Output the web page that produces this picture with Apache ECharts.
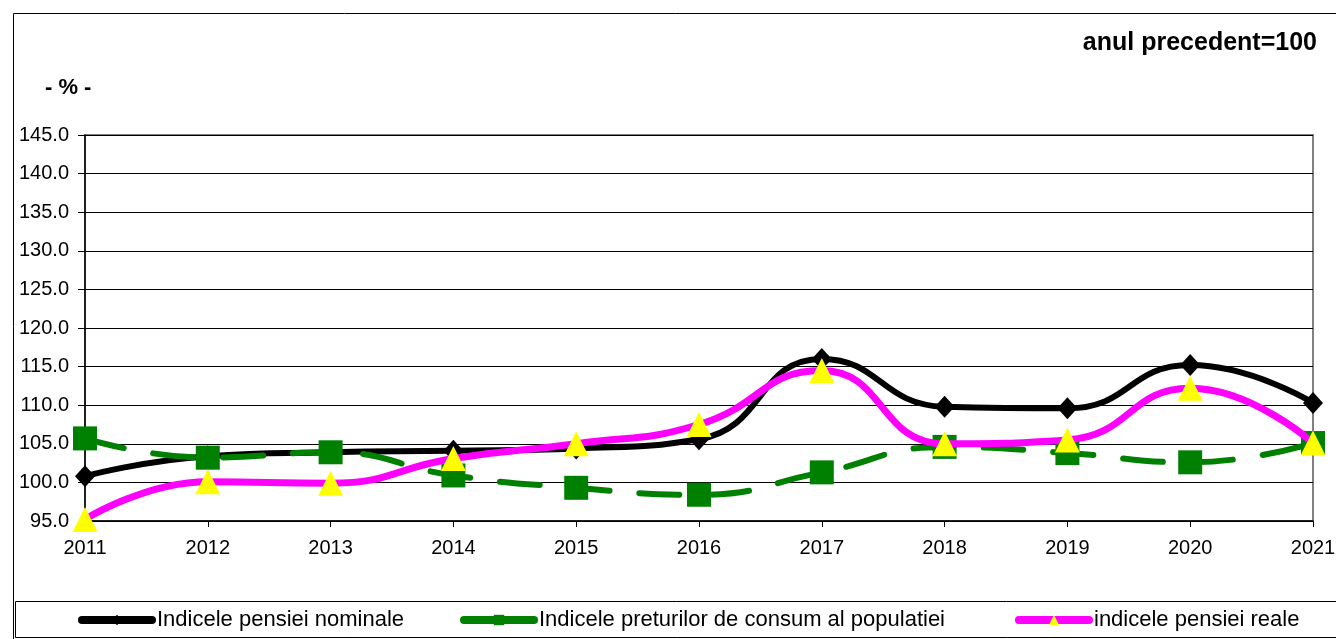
<!DOCTYPE html>
<html><head><meta charset="utf-8">
<script src="https://cdn.jsdelivr.net/npm/echarts@6/dist/echarts.min.js"></script>
<style>html,body{margin:0;padding:0;background:#fff}#c{width:1336px;height:639px}</style>
</head><body><div id="c"></div>
<script>
const years = ['2011','2012','2013','2014','2015','2016','2017','2018','2019','2020','2021'];
const nominal = [100.8, 103.4, 103.9, 104.1, 104.4, 105.6, 116.0, 109.8, 109.6, 115.2, 110.3];
const prices  = [105.7, 103.2, 103.9, 100.9, 99.3, 98.4, 101.3, 104.6, 103.8, 102.6, 105.1];
const real    = [95.2, 100.1, 99.9, 103.1, 105.0, 107.5, 114.5, 105.0, 105.5, 112.2, 105.1];
const names = ['Indicele pensiei nominale','Indicele preturilor de consum al populatiei','indicele pensiei reale'];

const F = 'Arial, "Liberation Sans", sans-serif';
const chart = echarts.init(document.getElementById('c'), null, {renderer:'canvas'});
function legend(name, left){
  return {data:[name], left:left, top:609, itemWidth:70, itemHeight:13,
    lineStyle:{width:8, type:'solid', cap:'round'},
    textStyle:{fontFamily:F, fontSize:22, color:'#000'}, padding:0, itemGap:0};
}
chart.setOption({
  animation:false,
  backgroundColor:'#fff',
  graphic:[
    {type:'rect', shape:{x:13.5,y:13.5,width:1400,height:700}, style:{fill:'none',stroke:'#000',lineWidth:1}, z:0},
    {type:'rect', shape:{x:15.5,y:601.5,width:1400,height:36}, style:{fill:'none',stroke:'#000',lineWidth:1}, z:0},
    {type:'text', left:45, top:77, style:{text:'- % -', font:'bold 22px '+F, fill:'#000'}},
    {type:'text', right:19, top:31, style:{text:'anul precedent=100', font:'bold 25px '+F, fill:'#000'}}
  ],
  legend:[legend(names[0],78), legend(names[1],460), legend(names[2],1015)],
  grid:{left:85, right:23, top:135, bottom:118, outerBoundsMode:'none', containLabel:false,
    show:true, borderColor:'#808080', borderWidth:2, backgroundColor:'transparent'},
  xAxis:{type:'category', data:years, boundaryGap:false,
    axisLine:{lineStyle:{color:'#000', width:1.5}},
    axisTick:{show:true, length:6, lineStyle:{color:'#000'}},
    axisLabel:{fontFamily:F, fontSize:20, color:'#000', margin:17}},
  yAxis:{type:'value', min:95, max:145, interval:5,
    axisLine:{show:true, lineStyle:{color:'#000', width:1.5}},
    axisTick:{show:true, length:7, lineStyle:{color:'#000'}},
    splitLine:{lineStyle:{color:'#000', width:1}},
    axisLabel:{fontFamily:F, fontSize:20, color:'#000', margin:16, formatter:v=>v.toFixed(1)}},
  series:[
    {name:names[0], type:'line', data:nominal, smooth:0.5, symbol:'diamond', symbolSize:[20,22],
     lineStyle:{color:'#000', width:6}, itemStyle:{color:'#000'}, z:2},
    {name:names[1], type:'line', data:prices, smooth:0.5, symbol:'rect', symbolSize:24,
     lineStyle:{color:'#008000', width:6, type:[40,30], cap:'round'}, itemStyle:{color:'#008000'}, z:3},
    {name:names[2], type:'line', data:real, smooth:0.5, symbol:'triangle', symbolSize:[25,25],
     lineStyle:{color:'#FF00FF', width:7}, itemStyle:{color:'#FFFF00'}, z:4}
  ]
});
</script></body></html>
